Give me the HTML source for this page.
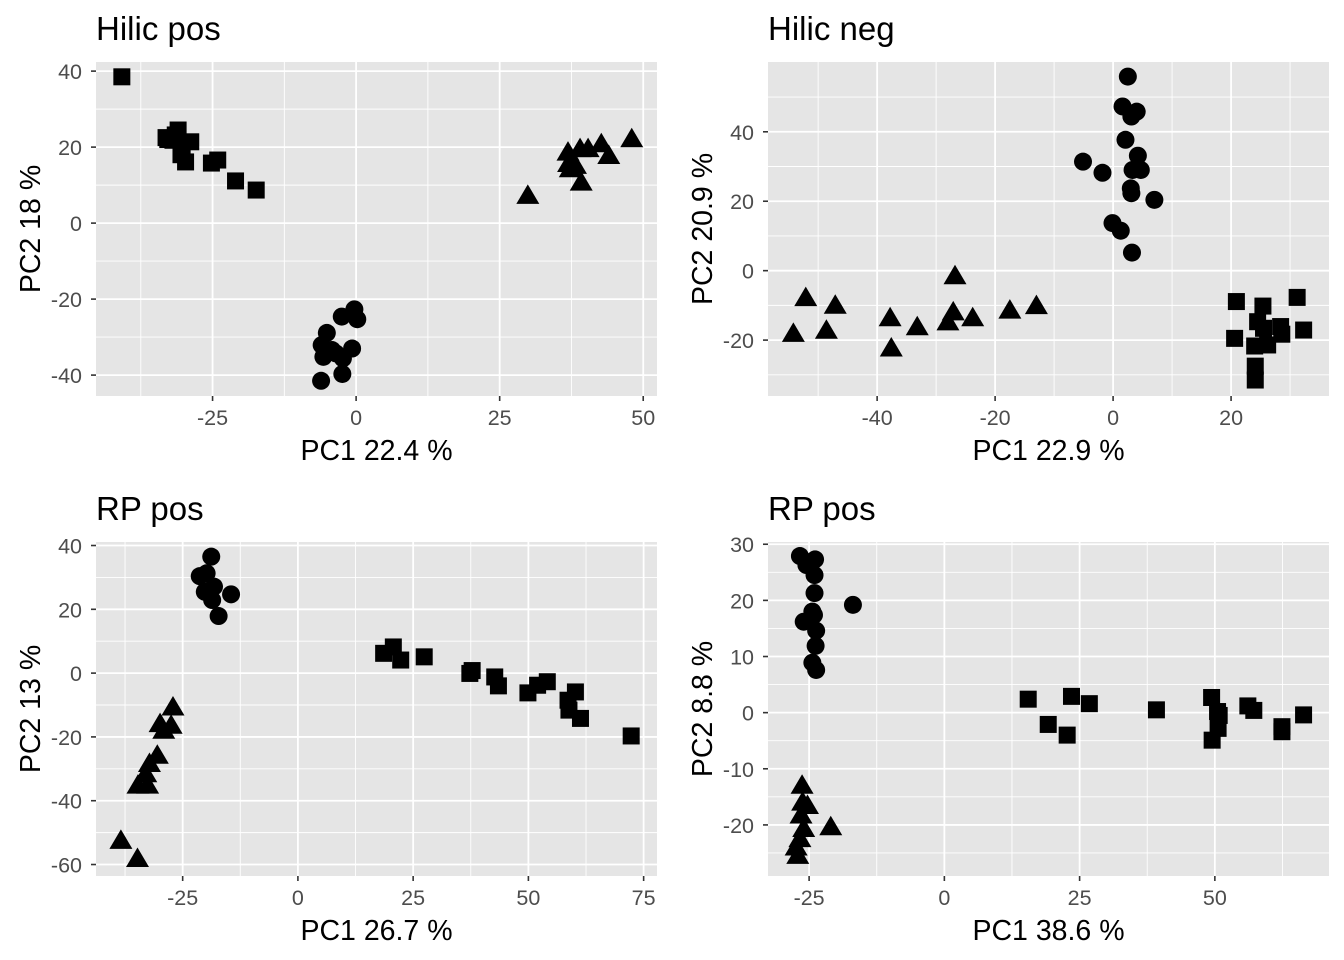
<!DOCTYPE html>
<html><head><meta charset="utf-8"><style>
body{margin:0;background:#fff;}
svg{display:block;font-family:"Liberation Sans",Arial,sans-serif;}
</style></head><body>
<svg id="chart" width="1344" height="960" viewBox="0 0 1344 960"></svg>
<script>
// ---- data arrays ----
const p1Squares=[[-40.8,38.5],[-32.8,22],[-31,24.5],[-28.8,21.4],[-30.3,19.2],[-29.7,16.1],[-31.9,21.8],[-33.1,22.5],[-31.5,23.2],[-30.5,18],[-24.1,16.6],[-25.2,15.8],[-21.0,11.1],[-17.4,8.7]];
const p1Triangles=[[29.9,6.9],[36.9,18.3],[39,19.2],[40.4,19.2],[42.7,20.5],[44,17.4],[48,21.8],[37.3,13.9],[37,15.3],[39.2,10.4],[38.2,14.8]];
const p1Circles=[[-0.3,-22.7],[0.2,-25.3],[-2.5,-24.6],[-5.1,-28.9],[-6.0,-32.1],[-5.7,-35.2],[-3.5,-34.3],[-0.7,-33.0],[-2.3,-35.6],[-2.4,-39.7],[-6.1,-41.5],[-4.2,-33.4]];
const p2Circles=[[2.5,55.9],[1.6,47.3],[4.0,45.8],[3.1,44.4],[2.1,37.7],[4.2,33.1],[3.3,29.0],[4.7,29.0],[-5.1,31.4],[-1.8,28.2],[3.0,23.7],[3.1,22.3],[7.0,20.4],[-0.1,13.7],[1.3,11.5],[3.2,5.2]];
const p2Triangles=[[-52.1,-8.2],[-47.1,-10.4],[-54.2,-18.5],[-48.6,-17.6],[-37.8,-14.0],[-33.2,-16.6],[-37.6,-22.7],[-26.8,-1.9],[-27.1,-12.3],[-28.0,-15.2],[-23.8,-14.0],[-17.5,-11.8],[-13.0,-10.5]];
const p2Squares=[[20.9,-8.9],[25.4,-10.2],[31.2,-7.7],[24.5,-14.7],[28.4,-16.1],[32.3,-17.1],[20.6,-19.5],[28.6,-18.3],[24.0,-21.7],[26.2,-21.4],[24.1,-27.5],[24.1,-31.5],[25.5,-16.6]];
const p3Circles=[[-18.8,36.5],[-21.3,30.4],[-19.8,31.3],[-14.5,24.7],[-20.2,25.5],[-18.6,22.9],[-17.2,17.9],[-18.2,27.1]];
const p3Triangles=[[-27.1,-11.1],[-29.9,-16.3],[-27.5,-16.8],[-29.1,-18.4],[-30.5,-26.2],[-32.2,-28.8],[-33.0,-32.0],[-34.7,-35.6],[-32.6,-35.6],[-38.4,-52.9],[-34.8,-58.6]];
const p3Squares=[[18.6,6.2],[20.7,8.2],[22.3,4.1],[27.4,5.1],[37.3,-0.1],[37.8,0.8],[42.7,-1.2],[43.5,-4.0],[49.9,-6.2],[52.0,-3.8],[54.1,-2.7],[60.2,-5.9],[58.6,-8.5],[58.8,-11.6],[61.3,-14.2],[72.3,-19.7]];
const p4Circles=[[-26.7,27.9],[-23.9,27.3],[-25.5,26.3],[-24.0,24.5],[-24.0,21.3],[-24.1,17.4],[-26.0,16.2],[-23.7,14.6],[-23.8,11.9],[-24.4,8.9],[-23.7,7.6],[-16.9,19.2],[-24.4,18.0]];
const p4Triangles=[[-26.3,-13.2],[-26.2,-16.2],[-26.5,-18.5],[-26.0,-20.9],[-26.7,-22.7],[-27.1,-25.7],[-21.0,-20.6],[-27.4,-24.2],[-25.3,-16.8]];
const p4Squares=[[15.5,2.4],[23.5,2.9],[26.8,1.6],[19.2,-2.1],[22.7,-4.0],[39.2,0.5],[49.4,2.7],[50.5,0.2],[50.6,-2.8],[49.5,-4.9],[50.8,-0.5],[56.1,1.2],[57.2,0.4],[62.4,-2.5],[62.4,-3.4],[66.4,-0.4]];
const xTicks1=[-25,0,25,50], yTicks1=[-40,-20,0,20,40];
const xTicks2=[-40,-20,0,20], yTicks2=[-20,0,20,40];
const xTicks3=[-25,0,25,50,75], yTicks3=[-60,-40,-20,0,20,40];
const xTicks4=[-25,0,25,50], yTicks4=[-20,-10,0,10,20,30];

const NS="http://www.w3.org/2000/svg";
const svg=document.getElementById('chart');
function mk(tag,attrs,parent){const e=document.createElementNS(NS,tag);for(const k in attrs)e.setAttribute(k,attrs[k]);(parent||svg).appendChild(e);return e;}

const panels=[
 {id:'hilic-pos',title:'Hilic pos',xl:'PC1 22.4 %',yl:'PC2 18 %',L:96,T:62,R:657,B:396,xd:[-45.3,52.4],yd:[-45.5,42.4],xt:xTicks1,yt:yTicks1,c:p1Circles,t:p1Triangles,s:p1Squares},
 {id:'hilic-neg',title:'Hilic neg',xl:'PC1 22.9 %',yl:'PC2 20.9 %',L:768,T:62,R:1329,B:396,xd:[-58.5,36.6],yd:[-36.1,60.1],xt:xTicks2,yt:yTicks2,c:p2Circles,t:p2Triangles,s:p2Squares},
 {id:'rp-pos-1',title:'RP pos',xl:'PC1 26.7 %',yl:'PC2 13 %',L:96,T:542,R:657,B:876,xd:[-43.8,77.9],yd:[-63.6,41.1],xt:xTicks3,yt:yTicks3,c:p3Circles,t:p3Triangles,s:p3Squares},
 {id:'rp-pos-2',title:'RP pos',xl:'PC1 38.6 %',yl:'PC2 8.8 %',L:768,T:542,R:1329,B:876,xd:[-32.6,71.1],yd:[-29.1,30.4],xt:xTicks4,yt:yTicks4,c:p4Circles,t:p4Triangles,s:p4Squares}
];

panels.forEach(p=>{
 const g=mk('g',{});
 
 
 const X=v=>p.L+(v-p.xd[0])/(p.xd[1]-p.xd[0])*(p.R-p.L);
 const Y=v=>p.B-(v-p.yd[0])/(p.yd[1]-p.yd[0])*(p.B-p.T);
 const bg=mk('rect',{x:p.L,y:p.T,width:p.R-p.L,height:p.B-p.T,fill:'#e5e5e5'},g);
 
 
 const xs=p.xt[1]-p.xt[0], ys=p.yt[1]-p.yt[0];
 for(let v=p.xt[0]-xs/2;v<=p.xd[1];v+=xs){if(v>=p.xd[0])mk('line',{x1:X(v),x2:X(v),y1:p.T,y2:p.B,stroke:'#fff','stroke-width':0.9},g);}
 for(let v=p.yt[0]-ys/2;v<=p.yd[1];v+=ys){if(v>=p.yd[0])mk('line',{y1:Y(v),y2:Y(v),x1:p.L,x2:p.R,stroke:'#fff','stroke-width':0.9},g);}
 p.xt.forEach(v=>{
  mk('line',{x1:X(v),x2:X(v),y1:p.T,y2:p.B,stroke:'#fff','stroke-width':1.8},g);
  mk('line',{x1:X(v),x2:X(v),y1:p.B,y2:p.B+5,stroke:'#333','stroke-width':1.6},g);
  const t=mk('text',{x:X(v),y:p.B+29,'text-anchor':'middle','font-size':21.5,fill:'#4d4d4d'},g);t.textContent=v;
  
  
 });
 p.yt.forEach(v=>{
  mk('line',{y1:Y(v),y2:Y(v),x1:p.L,x2:p.R,stroke:'#fff','stroke-width':1.8},g);
  mk('line',{y1:Y(v),y2:Y(v),x1:p.L-5,x2:p.L,stroke:'#333','stroke-width':1.6},g);
  const t=mk('text',{x:p.L-14,y:Y(v)+8,'text-anchor':'end','font-size':21.5,fill:'#4d4d4d'},g);t.textContent=v;
  
  
 });
 p.s.forEach(d=>{const e=mk('rect',{x:X(d[0])-8.5,y:Y(d[1])-8.5,width:17,height:17,fill:'#000'},g);
  
  });
 p.c.forEach(d=>{const e=mk('circle',{cx:X(d[0]),cy:Y(d[1]),r:9,fill:'#000'},g);
  
  });
 p.t.forEach(d=>{const x=X(d[0]),y=Y(d[1]);const e=mk('polygon',{points:`${x},${y-12.5} ${x-11.5},${y+7} ${x+11.5},${y+7}`,fill:'#000'},g);
  
  });
 const ti=mk('text',{x:p.L,y:p.T-22,'font-size':33,fill:'#000'},g);ti.textContent=p.title;
 
 
 const xl=mk('text',{x:(p.L+p.R)/2,y:p.B+64,'text-anchor':'middle','font-size':28.5,fill:'#000'},g);xl.textContent=p.xl;
 
 
 const yx=p.L-56,yy=(p.T+p.B)/2;
 const yl=mk('text',{x:yx,y:yy,'text-anchor':'middle','font-size':28.5,fill:'#000',transform:`rotate(-90 ${yx} ${yy})`},g);yl.textContent=p.yl;
 
 
});
</script>
</body></html>
